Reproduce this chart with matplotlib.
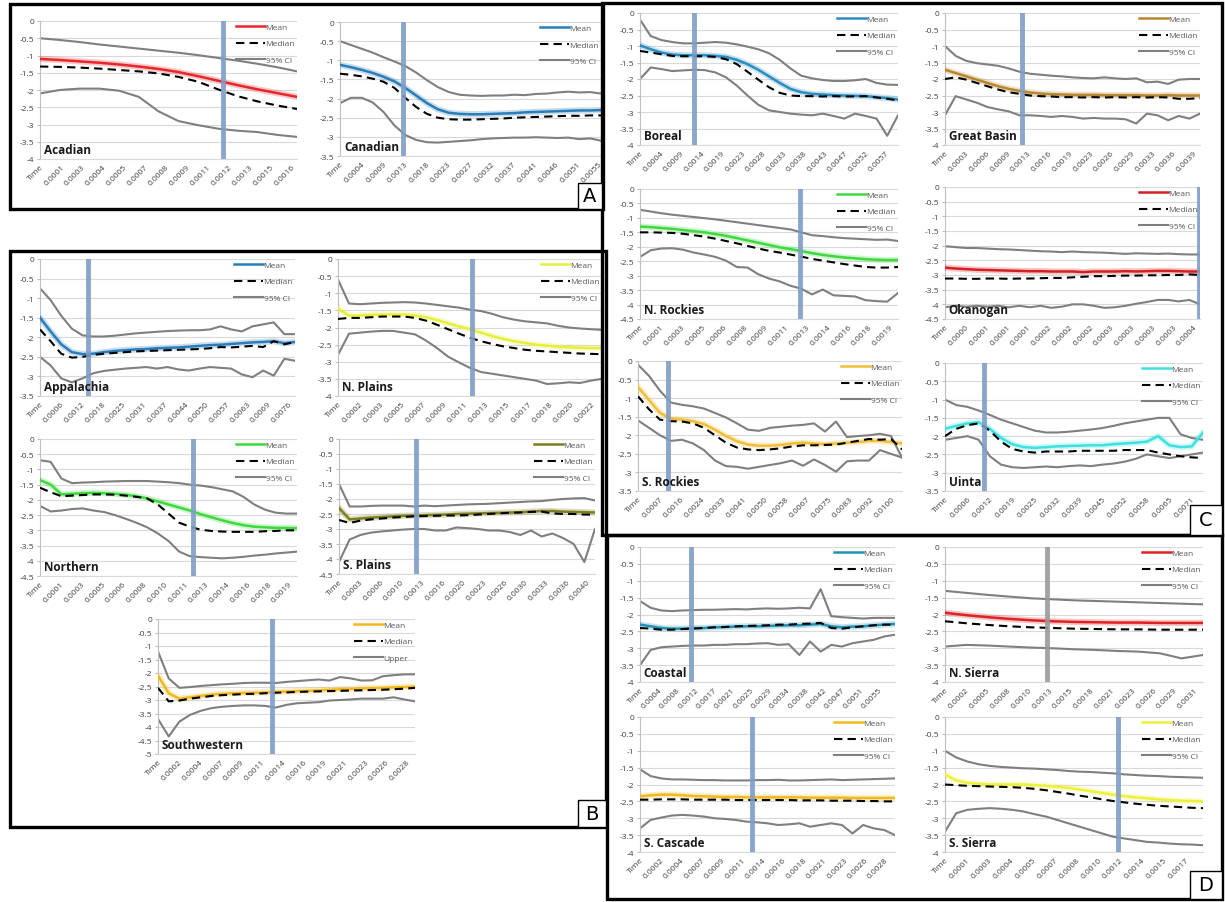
import numpy as np
import matplotlib.pyplot as plt
from matplotlib.patches import Rectangle
from matplotlib.lines import Line2D

plt.rcParams['font.family'] = ['Open Sans', 'DejaVu Sans']

W, H = 1225, 903

# ---------------- data ----------------
# A: Acadian
acadian_ticks = ['Time', '0.0001', '0.0003', '0.0004', '0.0005', '0.0007', '0.0008',
                 '0.0009', '0.0011', '0.0012', '0.0013', '0.0015', '0.0016']
acadian_mean = [-1.1, -1.13, -1.17, -1.21, -1.26, -1.32, -1.39, -1.48, -1.6, -1.73, -1.86, -1.98, -2.09, -2.2]
acadian_median = [-1.32, -1.33, -1.35, -1.38, -1.42, -1.46, -1.52, -1.62, -1.76, -1.98, -2.18, -2.33, -2.45, -2.55]
acadian_upper = [-0.5, -0.55, -0.61, -0.68, -0.74, -0.8, -0.86, -0.92, -0.99, -1.07, -1.15, -1.24, -1.34, -1.46]
acadian_lower = [-2.1, -2.0, -1.96, -1.96, -2.02, -2.2, -2.62, -2.9, -3.02, -3.12, -3.18, -3.22, -3.3, -3.36]

# A: Canadian
canadian_ticks = ['Time', '0.0004', '0.0009', '0.0013', '0.0018', '0.0023', '0.0027',
                  '0.0032', '0.0037', '0.0041', '0.0046', '0.0051', '0.0055']
canadian_mean = [-1.12, -1.18, -1.25, -1.33, -1.43, -1.55, -1.72, -1.92, -2.12, -2.28, -2.37, -2.4, -2.41,
                 -2.41, -2.4, -2.39, -2.38, -2.36, -2.35, -2.34, -2.33, -2.32, -2.31, -2.31, -2.3]
canadian_median = [-1.35, -1.38, -1.42, -1.48, -1.56, -1.72, -1.98, -2.22, -2.4, -2.5, -2.54, -2.55, -2.55,
                   -2.54, -2.53, -2.52, -2.5, -2.49, -2.48, -2.47, -2.46, -2.45, -2.45, -2.44, -2.44]
canadian_upper = [-0.5, -0.6, -0.7, -0.8, -0.92, -1.03, -1.15, -1.32, -1.52, -1.7, -1.83, -1.9, -1.92,
                  -1.93, -1.92, -1.92, -1.9, -1.91, -1.88, -1.87, -1.84, -1.82, -1.84, -1.83, -1.87]
canadian_lower = [-2.12, -1.98, -1.98, -2.1, -2.35, -2.7, -2.95, -3.08, -3.14, -3.15, -3.13, -3.11, -3.09,
                  -3.06, -3.04, -3.03, -3.02, -3.02, -3.01, -3.02, -3.03, -3.02, -3.06, -3.04, -3.1]

# C: Boreal
boreal_ticks = ['Time', '0.0004', '0.0009', '0.0014', '0.0019', '0.0023', '0.0028',
                '0.0033', '0.0038', '0.0043', '0.0047', '0.0052', '0.0057']
boreal_mean = [-0.98, -1.1, -1.2, -1.26, -1.28, -1.28, -1.28, -1.3, -1.33, -1.42, -1.55, -1.72, -1.92,
               -2.12, -2.3, -2.4, -2.45, -2.47, -2.49, -2.5, -2.51, -2.52, -2.55, -2.58, -2.62]
boreal_median = [-1.15, -1.2, -1.25, -1.3, -1.31, -1.31, -1.31, -1.33, -1.4, -1.55, -1.78, -2.02, -2.25,
                 -2.42, -2.5, -2.52, -2.52, -2.53, -2.52, -2.53, -2.53, -2.52, -2.56, -2.6, -2.65]
boreal_upper = [-0.2, -0.7, -0.82, -0.88, -0.92, -0.92, -0.9, -0.88, -0.9, -0.95, -1.02, -1.1, -1.22,
                -1.42, -1.68, -1.9, -1.98, -2.03, -2.06, -2.06, -2.04, -2.0, -2.12, -2.17, -2.18]
boreal_lower = [-2.0, -1.65, -1.7, -1.76, -1.74, -1.72, -1.73, -1.8, -1.95, -2.2, -2.5, -2.78, -2.95,
                -3.0, -3.05, -3.08, -3.1, -3.05, -3.12, -3.2, -3.05, -3.12, -3.2, -3.72, -3.1]

# C: Great Basin
basin_ticks = ['Time', '0.0003', '0.0006', '0.0009', '0.0013', '0.0016', '0.0019',
               '0.0023', '0.0026', '0.0029', '0.0033', '0.0036', '0.0039']
basin_mean = [-1.72, -1.82, -1.92, -2.02, -2.12, -2.22, -2.3, -2.36, -2.41, -2.44, -2.46, -2.47, -2.48,
              -2.48, -2.48, -2.49, -2.49, -2.49, -2.49, -2.5, -2.5, -2.49, -2.5, -2.5, -2.5]
basin_median = [-2.0, -1.95, -2.02, -2.12, -2.22, -2.32, -2.4, -2.45, -2.5, -2.52, -2.53, -2.55, -2.55,
                -2.56, -2.55, -2.56, -2.55, -2.56, -2.55, -2.56, -2.55, -2.56, -2.6, -2.6, -2.58]
basin_upper = [-1.0, -1.3, -1.45, -1.52, -1.56, -1.6, -1.68, -1.78, -1.84, -1.87, -1.9, -1.92, -1.95,
               -1.97, -1.98, -1.95, -1.98, -2.0, -1.98, -2.1, -2.08, -2.15, -2.02, -2.0, -2.0]
basin_lower = [-3.1, -2.52, -2.62, -2.72, -2.85, -2.92, -2.98, -3.1, -3.1, -3.12, -3.15, -3.12, -3.15,
               -3.2, -3.18, -3.2, -3.2, -3.22, -3.35, -3.05, -3.1, -3.25, -3.12, -3.2, -3.05]

# C: N. Rockies
nrockies_ticks = ['Time', '0.0001', '0.0003', '0.0005', '0.0006', '0.0008', '0.0009',
                  '0.0011', '0.0013', '0.0014', '0.0016', '0.0018', '0.0019']
nrockies_mean = [-1.3, -1.32, -1.35, -1.38, -1.42, -1.46, -1.5, -1.56, -1.62, -1.7, -1.78, -1.86, -1.94,
                 -2.02, -2.08, -2.15, -2.22, -2.28, -2.33, -2.37, -2.4, -2.43, -2.45, -2.46, -2.46]
nrockies_median = [-1.5, -1.5, -1.51, -1.52, -1.55, -1.6, -1.65, -1.72, -1.8, -1.88, -1.97, -2.06, -2.14,
                   -2.2, -2.27, -2.34, -2.42, -2.48, -2.54, -2.6, -2.65, -2.7, -2.72, -2.72, -2.7]
nrockies_upper = [-0.72, -0.78, -0.84, -0.89, -0.93, -0.97, -1.01, -1.05, -1.1, -1.15, -1.2, -1.25, -1.3,
                  -1.35, -1.4, -1.5, -1.6, -1.63, -1.67, -1.7, -1.72, -1.74, -1.76, -1.75, -1.8]
nrockies_lower = [-2.35, -2.12, -2.06, -2.05, -2.1, -2.2, -2.27, -2.35, -2.48, -2.7, -2.72, -2.95, -3.1,
                  -3.2, -3.35, -3.45, -3.65, -3.48, -3.68, -3.7, -3.72, -3.85, -3.88, -3.9, -3.6]

# C: Okanogan
okanogan_ticks = ['Time', '0.0000', '0.0001', '0.0001', '0.0001', '0.0002', '0.0002',
                  '0.0002', '0.0003', '0.0003', '0.0003', '0.0003', '0.0004']
okanogan_mean = [-2.75, -2.78, -2.8, -2.82, -2.83, -2.84, -2.85, -2.86, -2.87, -2.87, -2.88, -2.88, -2.88,
                 -2.9, -2.88, -2.88, -2.88, -2.87, -2.88, -2.87, -2.86, -2.86, -2.87, -2.88, -2.88]
okanogan_median = [-3.12, -3.12, -3.13, -3.13, -3.12, -3.12, -3.13, -3.12, -3.12, -3.11, -3.1, -3.1, -3.08,
                   -3.06, -3.04, -3.04, -3.03, -3.02, -3.02, -3.01, -3.01, -3.0, -3.0, -2.98, -3.0]
okanogan_upper = [-2.02, -2.05, -2.08, -2.08, -2.1, -2.12, -2.13, -2.15, -2.17, -2.19, -2.2, -2.22, -2.2,
                  -2.22, -2.23, -2.24, -2.26, -2.28, -2.26, -2.27, -2.28, -2.27, -2.29, -2.3, -2.3]
okanogan_lower = [-4.1, -4.05, -4.08, -4.05, -4.08, -4.05, -4.1, -4.05, -4.1, -4.05, -4.12, -4.08, -4.0,
                  -4.0, -4.05, -4.12, -4.1, -4.05, -3.98, -3.92, -3.85, -3.85, -3.9, -3.85, -4.0]

# C: S. Rockies
srockies_ticks = ['Time', '0.0007', '0.0016', '0.0024', '0.0033', '0.0041', '0.0050',
                  '0.0058', '0.0067', '0.0075', '0.0083', '0.0092', '0.0100']
srockies_mean = [-0.7, -1.05, -1.4, -1.55, -1.58, -1.62, -1.7, -1.85, -2.02, -2.16, -2.25, -2.28, -2.28,
                 -2.26, -2.22, -2.2, -2.22, -2.24, -2.22, -2.2, -2.18, -2.15, -2.15, -2.18, -2.22]
srockies_median = [-0.95, -1.3, -1.58, -1.62, -1.63, -1.68, -1.8, -2.0, -2.2, -2.33, -2.38, -2.4, -2.38,
                   -2.35, -2.3, -2.27, -2.27, -2.26, -2.25, -2.2, -2.15, -2.1, -2.12, -2.1, -2.38]
srockies_upper = [-0.1, -0.4, -0.8, -1.12, -1.18, -1.22, -1.28, -1.4, -1.52, -1.68, -1.85, -1.88, -1.8,
                  -1.77, -1.74, -1.72, -1.68, -1.9, -1.63, -2.05, -2.02, -2.0, -1.96, -2.02, -2.6]
srockies_lower = [-1.6, -1.8, -2.0, -2.15, -2.12, -2.22, -2.4, -2.68, -2.83, -2.85, -2.9, -2.85, -2.8,
                  -2.75, -2.68, -2.82, -2.65, -2.8, -2.98, -2.7, -2.68, -2.68, -2.4, -2.5, -2.6]

# C: Uinta
uinta_ticks = ['Time', '0.0006', '0.0012', '0.0019', '0.0025', '0.0032', '0.0039',
               '0.0045', '0.0052', '0.0058', '0.0065', '0.0071']
uinta_mean = [-1.8, -1.72, -1.65, -1.62, -1.8, -2.05, -2.22, -2.3, -2.32, -2.3, -2.28, -2.27,
              -2.26, -2.25, -2.25, -2.22, -2.2, -2.18, -2.15, -2.0, -2.25, -2.3, -2.28, -1.9]
uinta_median = [-2.0, -1.8, -1.7, -1.65, -1.85, -2.15, -2.35, -2.42, -2.45, -2.42, -2.42, -2.42,
                -2.4, -2.4, -2.4, -2.4, -2.38, -2.38, -2.38, -2.45, -2.5, -2.55, -2.58, -2.6]
uinta_upper = [-1.0, -1.15, -1.2, -1.3, -1.42, -1.55, -1.65, -1.75, -1.85, -1.9, -1.9, -1.88,
               -1.85, -1.82, -1.78, -1.72, -1.65, -1.6, -1.55, -1.5, -1.5, -1.95, -2.05, -2.1]
uinta_lower = [-2.1, -2.05, -2.0, -2.1, -2.55, -2.78, -2.85, -2.87, -2.85, -2.83, -2.85, -2.82,
               -2.8, -2.82, -2.78, -2.75, -2.7, -2.62, -2.5, -2.55, -2.6, -2.55, -2.5, -2.45]

# B: Appalachia
appal_ticks = ['Time', '0.0006', '0.0012', '0.0018', '0.0025', '0.0031', '0.0037',
               '0.0044', '0.0050', '0.0057', '0.0063', '0.0069', '0.0076']
appal_mean = [-1.5, -1.85, -2.18, -2.38, -2.43, -2.42, -2.38, -2.35, -2.33, -2.31, -2.3, -2.28, -2.27,
              -2.26, -2.24, -2.22, -2.2, -2.19, -2.17, -2.15, -2.13, -2.12, -2.1, -2.15, -2.12]
appal_median = [-1.8, -2.1, -2.42, -2.52, -2.5, -2.45, -2.42, -2.4, -2.38, -2.36, -2.35, -2.34, -2.33,
                -2.32, -2.31, -2.3, -2.28, -2.25, -2.26, -2.24, -2.22, -2.25, -2.1, -2.18, -2.12]
appal_upper = [-0.75, -1.05, -1.45, -1.78, -1.95, -1.98, -1.98, -1.96, -1.93, -1.9, -1.88, -1.86, -1.84,
               -1.83, -1.82, -1.82, -1.8, -1.72, -1.8, -1.85, -1.72, -1.67, -1.62, -1.92, -1.92]
appal_lower = [-2.5, -2.72, -3.05, -3.15, -3.05, -2.92, -2.86, -2.83, -2.8, -2.78, -2.76, -2.8, -2.76,
               -2.82, -2.85, -2.8, -2.76, -2.78, -2.8, -2.95, -3.02, -2.85, -2.98, -2.55, -2.6]

# B: N. Plains
nplains_ticks = ['Time', '0.0002', '0.0003', '0.0005', '0.0007', '0.0009', '0.0011',
                 '0.0013', '0.0015', '0.0017', '0.0018', '0.0020', '0.0022']
nplains_mean = [-1.45, -1.65, -1.65, -1.63, -1.62, -1.62, -1.62, -1.65, -1.7, -1.78, -1.88, -1.97, -2.05,
                -2.15, -2.25, -2.33, -2.4, -2.45, -2.5, -2.53, -2.56, -2.58, -2.59, -2.6, -2.6]
nplains_median = [-1.75, -1.72, -1.72, -1.7, -1.68, -1.68, -1.68, -1.72, -1.8, -1.92, -2.05, -2.18, -2.3,
                  -2.4, -2.48, -2.55, -2.6, -2.65, -2.68, -2.7, -2.72, -2.74, -2.76, -2.77, -2.78]
nplains_upper = [-0.6, -1.3, -1.32, -1.3, -1.28, -1.27, -1.26, -1.27, -1.3, -1.34, -1.38, -1.42, -1.48,
                 -1.52, -1.6, -1.7, -1.77, -1.82, -1.85, -1.88, -1.95, -2.0, -2.03, -2.05, -2.07]
nplains_lower = [-2.8, -2.18, -2.15, -2.12, -2.1, -2.1, -2.15, -2.2, -2.38, -2.6, -2.85, -3.02, -3.18,
                 -3.3, -3.35, -3.4, -3.45, -3.5, -3.55, -3.65, -3.63, -3.6, -3.62, -3.55, -3.5]

# B: Northern
northern_ticks = ['Time', '0.0001', '0.0003', '0.0005', '0.0006', '0.0008', '0.0010',
                  '0.0011', '0.0013', '0.0014', '0.0016', '0.0018', '0.0019']
northern_mean = [-1.35, -1.5, -1.82, -1.8, -1.78, -1.77, -1.78, -1.8, -1.83, -1.88, -1.95, -2.05, -2.15,
                 -2.25, -2.35, -2.47, -2.57, -2.67, -2.76, -2.83, -2.88, -2.9, -2.92, -2.92, -2.93]
northern_median = [-1.6, -1.75, -1.88, -1.86, -1.84, -1.82, -1.82, -1.83, -1.86, -1.9, -1.95, -2.15, -2.45,
                   -2.75, -2.88, -2.98, -3.02, -3.04, -3.05, -3.05, -3.05, -3.03, -3.02, -3.0, -3.0]
northern_upper = [-0.7, -0.75, -1.3, -1.45, -1.43, -1.42, -1.4, -1.39, -1.38, -1.38, -1.38, -1.4, -1.42,
                  -1.45, -1.5, -1.53, -1.58, -1.65, -1.72, -1.9, -2.15, -2.32, -2.42, -2.45, -2.45]
northern_lower = [-2.2, -2.38, -2.35, -2.3, -2.28, -2.35, -2.4, -2.5, -2.62, -2.75, -2.9, -3.1, -3.35,
                  -3.7, -3.85, -3.88, -3.9, -3.92, -3.9, -3.87, -3.83, -3.8, -3.76, -3.73, -3.7]

# B: S. Plains
splains_ticks = ['Time', '0.0003', '0.0006', '0.0010', '0.0013', '0.0016', '0.0020',
                 '0.0023', '0.0026', '0.0030', '0.0033', '0.0036', '0.0040']
splains_mean = [-2.3, -2.68, -2.65, -2.62, -2.6, -2.58, -2.56, -2.55, -2.54, -2.53, -2.52, -2.5, -2.49,
                -2.48, -2.47, -2.46, -2.45, -2.44, -2.42, -2.4, -2.4, -2.42, -2.43, -2.44, -2.45]
splains_median = [-2.7, -2.8, -2.72, -2.68, -2.65, -2.62, -2.6, -2.58, -2.57, -2.56, -2.55, -2.55, -2.54,
                  -2.52, -2.5, -2.48, -2.46, -2.45, -2.43, -2.42, -2.48, -2.5, -2.5, -2.52, -2.52]
splains_upper = [-1.5, -2.25, -2.25, -2.23, -2.22, -2.22, -2.22, -2.25, -2.22, -2.24, -2.22, -2.2, -2.18,
                 -2.17, -2.16, -2.14, -2.12, -2.1, -2.08, -2.07, -2.03, -2.0, -1.98, -1.97, -2.05]
splains_lower = [-4.1, -3.35, -3.2, -3.12, -3.08, -3.05, -3.02, -3.0, -3.0, -3.05, -3.05, -2.95, -2.97,
                 -3.0, -3.05, -3.05, -3.1, -3.2, -3.05, -3.25, -3.15, -3.3, -3.5, -4.1, -3.0]

# B: Southwestern
southw_ticks = ['Time', '0.0002', '0.0004', '0.0007', '0.0009', '0.0011', '0.0014',
                '0.0016', '0.0019', '0.0021', '0.0023', '0.0026', '0.0028']
southw_mean = [-2.1, -2.75, -2.95, -2.9, -2.85, -2.8, -2.77, -2.75, -2.74, -2.73, -2.72, -2.7, -2.69,
               -2.67, -2.66, -2.64, -2.62, -2.6, -2.59, -2.57, -2.56, -2.55, -2.53, -2.52, -2.5]
southw_median = [-2.55, -3.05, -3.02, -2.95, -2.9, -2.85, -2.82, -2.8, -2.78, -2.77, -2.75, -2.73, -2.72,
                 -2.7, -2.69, -2.68, -2.67, -2.66, -2.65, -2.64, -2.63, -2.62, -2.6, -2.58, -2.55]
southw_upper = [-1.2, -2.2, -2.55, -2.52, -2.48, -2.45, -2.42, -2.4, -2.37, -2.36, -2.36, -2.37, -2.33,
                -2.3, -2.27, -2.24, -2.28, -2.15, -2.2, -2.28, -2.27, -2.12, -2.08, -2.05, -2.05]
southw_lower = [-3.7, -4.35, -3.8, -3.55, -3.4, -3.3, -3.25, -3.22, -3.2, -3.2, -3.22, -3.28, -3.18,
                -3.12, -3.1, -3.08, -3.02, -3.0, -2.98, -2.95, -2.95, -2.95, -2.9, -2.98, -3.05]

# D: Coastal
coastal_ticks = ['Time', '0.0004', '0.0008', '0.0012', '0.0017', '0.0021', '0.0025',
                 '0.0029', '0.0034', '0.0038', '0.0042', '0.0047', '0.0051', '0.0055']
coastal_mean = [-2.3, -2.35, -2.4, -2.42, -2.42, -2.4, -2.4, -2.38, -2.37, -2.36, -2.35, -2.35, -2.34,
                -2.33, -2.32, -2.32, -2.3, -2.28, -2.35, -2.38, -2.36, -2.35, -2.32, -2.3, -2.28]
coastal_median = [-2.4, -2.42, -2.45, -2.45, -2.43, -2.42, -2.4, -2.38, -2.37, -2.35, -2.34, -2.33, -2.32,
                  -2.3, -2.3, -2.28, -2.27, -2.25, -2.4, -2.42, -2.38, -2.35, -2.32, -2.3, -2.3]
coastal_upper = [-1.6, -1.8, -1.88, -1.9, -1.88, -1.87, -1.86, -1.86, -1.85, -1.84, -1.85, -1.83, -1.82,
                 -1.83, -1.82, -1.8, -1.82, -1.25, -2.05, -2.08, -2.1, -2.12, -2.1, -2.1, -2.1]
coastal_lower = [-3.5, -3.05, -2.97, -2.95, -2.93, -2.92, -2.92, -2.9, -2.9, -2.88, -2.88, -2.86, -2.85,
                 -2.9, -2.88, -3.2, -2.8, -3.1, -2.9, -2.95, -2.85, -2.8, -2.75, -2.65, -2.6]

# D: N. Sierra
nsierra_ticks = ['Time', '0.0002', '0.0005', '0.0008', '0.0010', '0.0013', '0.0015',
                 '0.0018', '0.0021', '0.0023', '0.0026', '0.0029', '0.0031']
nsierra_mean = [-1.95, -2.02, -2.08, -2.13, -2.17, -2.2, -2.22, -2.23, -2.24, -2.24, -2.25, -2.25, -2.25]
nsierra_median = [-2.2, -2.26, -2.31, -2.35, -2.38, -2.4, -2.42, -2.43, -2.44, -2.44, -2.45, -2.45, -2.45]
nsierra_upper = [-1.3, -1.36, -1.42, -1.47, -1.52, -1.55, -1.58, -1.6, -1.62, -1.64, -1.66, -1.68, -1.7]
nsierra_lower = [-2.95, -2.9, -2.92, -2.95, -2.98, -3.0, -3.03, -3.05, -3.08, -3.1, -3.15, -3.3, -3.2]

# D: S. Cascade
scascade_ticks = ['Time', '0.0002', '0.0004', '0.0007', '0.0009', '0.0011', '0.0014',
                  '0.0016', '0.0018', '0.0021', '0.0023', '0.0026', '0.0028']
scascade_mean = [-2.35, -2.32, -2.3, -2.3, -2.32, -2.34, -2.35, -2.36, -2.37, -2.37, -2.38, -2.38, -2.38,
                 -2.38, -2.38, -2.38, -2.39, -2.39, -2.39, -2.39, -2.4, -2.4, -2.4, -2.4, -2.4]
scascade_median = [-2.45, -2.45, -2.44, -2.44, -2.44, -2.45, -2.45, -2.45, -2.45, -2.46, -2.46, -2.46, -2.46,
                   -2.46, -2.46, -2.47, -2.47, -2.47, -2.48, -2.48, -2.48, -2.49, -2.49, -2.5, -2.5]
scascade_upper = [-1.55, -1.75, -1.82, -1.85, -1.85, -1.86, -1.87, -1.87, -1.88, -1.88, -1.88, -1.87, -1.87,
                  -1.86, -1.88, -1.88, -1.87, -1.86, -1.85, -1.87, -1.86, -1.85, -1.84, -1.83, -1.82]
scascade_lower = [-3.3, -3.05, -2.98, -2.92, -2.9, -2.92, -2.95, -3.0, -3.02, -3.05, -3.1, -3.12, -3.15,
                  -3.2, -3.18, -3.15, -3.25, -3.2, -3.15, -3.2, -3.45, -3.2, -3.3, -3.35, -3.5]

# D: S. Sierra
ssierra_ticks = ['Time', '0.0001', '0.0003', '0.0004', '0.0005', '0.0007', '0.0008',
                 '0.0010', '0.0012', '0.0014', '0.0015', '0.0017']
ssierra_mean = [-1.7, -1.88, -1.95, -1.98, -2.0, -2.0, -2.0, -2.0, -2.02, -2.04, -2.07, -2.1,
                -2.15, -2.2, -2.25, -2.3, -2.35, -2.38, -2.41, -2.44, -2.46, -2.48, -2.49, -2.5]
ssierra_median = [-2.0, -2.02, -2.04, -2.05, -2.06, -2.07, -2.08, -2.1, -2.13, -2.17, -2.22, -2.27,
                  -2.33, -2.38, -2.44, -2.49, -2.53, -2.57, -2.6, -2.63, -2.65, -2.67, -2.69, -2.7]
ssierra_upper = [-1.0, -1.2, -1.32, -1.4, -1.45, -1.48, -1.5, -1.52, -1.53, -1.55, -1.57, -1.6,
                 -1.62, -1.63, -1.65, -1.67, -1.7, -1.72, -1.74, -1.75, -1.77, -1.78, -1.79, -1.8]
ssierra_lower = [-3.4, -2.85, -2.75, -2.72, -2.7, -2.72, -2.75, -2.8, -2.88, -2.95, -3.05, -3.15,
                 -3.25, -3.35, -3.45, -3.55, -3.6, -3.65, -3.7, -3.72, -3.75, -3.77, -3.78, -3.8]

# ---------------- panel layout: (name, data, pixel box, x end, y min, threshold line, mean colour) ----------------
panels = [
    ('Acadian', acadian_ticks, acadian_mean, acadian_median, acadian_upper, acadian_lower,
     (40, 22, 297, 160), 12.25, -4, 8.7, '#E8262B'),
    ('Canadian', canadian_ticks, canadian_mean, canadian_median, canadian_upper, canadian_lower,
     (340, 23, 601, 157), 12.1, -3.5, 2.9, '#2A7DB8'),
    ('Boreal', boreal_ticks, boreal_mean, boreal_median, boreal_upper, boreal_lower,
     (640, 14, 898, 146), 12.6, -4, 2.66, '#2B8CC0'),
    ('Great Basin', basin_ticks, basin_mean, basin_median, basin_upper, basin_lower,
     (945, 14, 1200, 146), 12.3, -4, 3.7, '#B8862E'),
    ('N. Rockies', nrockies_ticks, nrockies_mean, nrockies_median, nrockies_upper, nrockies_lower,
     (640, 190, 898, 320), 12.4, -4.5, 7.7, '#3FD93F'),
    ('Okanogan', okanogan_ticks, okanogan_mean, okanogan_median, okanogan_upper, okanogan_lower,
     (945, 188, 1200, 320), 12.3, -4.5, 12.25, '#D42020'),
    ('S. Rockies', srockies_ticks, srockies_mean, srockies_median, srockies_upper, srockies_lower,
     (638, 362, 902, 492), 12.5, -3.5, 1.4, '#F2BE38'),
    ('Uinta', uinta_ticks, uinta_mean, uinta_median, uinta_upper, uinta_lower,
     (945, 364, 1203, 492), 11.5, -3.5, 1.75, '#3FE0E0'),
    ('Appalachia', appal_ticks, appal_mean, appal_median, appal_upper, appal_lower,
     (40, 260, 295, 397), 12.3, -3.5, 2.3, '#2A7DB8'),
    ('N. Plains', nplains_ticks, nplains_mean, nplains_median, nplains_upper, nplains_lower,
     (338, 260, 602, 397), 12.5, -4, 6.35, '#E6F03C'),
    ('Northern', northern_ticks, northern_mean, northern_median, northern_upper, northern_lower,
     (40, 440, 297, 577), 12.4, -4.5, 7.4, '#3FD93F'),
    ('S. Plains', splains_ticks, splains_mean, splains_median, splains_upper, splains_lower,
     (339, 440, 595, 575), 12.4, -4.5, 3.75, '#7E7E1E'),
    ('Southwestern', southw_ticks, southw_mean, southw_median, southw_upper, southw_lower,
     (158, 620, 415, 755), 12.4, -5, 5.5, '#F2B81E'),
    ('Coastal', coastal_ticks, coastal_mean, coastal_median, coastal_upper, coastal_lower,
     (640, 548, 895, 683), 13.9, -4, 2.8, '#2391B5'),
    ('N. Sierra', nsierra_ticks, nsierra_mean, nsierra_median, nsierra_upper, nsierra_lower,
     (945, 548, 1203, 683), 12.4, -4, 4.9, '#E02222'),
    ('S. Cascade', scascade_ticks, scascade_mean, scascade_median, scascade_upper, scascade_lower,
     (640, 718, 895, 853), 12.5, -4, 5.5, '#F2B81E'),
    ('S. Sierra', ssierra_ticks, ssierra_mean, ssierra_median, ssierra_upper, ssierra_lower,
     (945, 718, 1203, 853), 11.8, -4, 7.9, '#EDF03C'),
]

ci_names = {'Southwestern': 'Upper'}
vline_colors = {'N. Sierra': '#9A9A9A'}

fig = plt.figure(figsize=(W / 100, H / 100), dpi=100)


def px_axes(box):
    x0, y0, x1, y1 = box
    return fig.add_axes([x0 / W, 1 - y1 / H, (x1 - x0) / W, (y1 - y0) / H])


for name, ticks, mean, median, upper, lower, box, xend, ymin, vline, color in panels:
    ax = px_axes(box)
    ax.set_xlim(0, xend)
    ax.set_ylim(ymin, 0)

    yt = np.arange(ymin, 0.01, 0.5)
    ax.set_yticks(yt)
    ax.set_yticklabels(['0' if abs(v) < 1e-9 else f'{v:g}' for v in yt])
    ax.set_xticks(range(len(ticks)))
    ax.set_xticklabels(ticks, rotation=45, ha='right', rotation_mode='anchor')
    ax.tick_params(axis='x', length=0, pad=3, labelsize=6.0, labelcolor='#404040')
    ax.tick_params(axis='y', length=2, pad=2, labelsize=6.0, labelcolor='#404040', color='#BFBFBF')
    ax.grid(axis='y', color='#D9D9D9', lw=0.8)
    ax.set_axisbelow(True)
    for s in ['top', 'right']:
        ax.spines[s].set_visible(False)
    ax.spines['left'].set_color('#BFBFBF')
    ax.spines['bottom'].set_color('#D9D9D9')

    # each series is spread evenly over the category axis
    def xs(v):
        return np.linspace(0, xend, len(v))

    ax.plot(xs(upper), upper, color='#7F7F7F', lw=1.5, zorder=2)
    ax.plot(xs(lower), lower, color='#7F7F7F', lw=1.5, zorder=2)
    ax.plot(xs(mean), mean, color=color, lw=4.5, alpha=0.25, solid_capstyle='round', zorder=3)
    ax.plot(xs(mean), mean, color=color, lw=1.8, zorder=4)
    ax.plot(xs(median), median, color='black', lw=1.5, dashes=(4, 2.5), zorder=5)

    ax.axvline(vline, color=vline_colors.get(name, '#7F9CC6'), lw=3.5, alpha=0.9, zorder=6)

    handles = [Line2D([], [], color=color, lw=1.8),
               Line2D([], [], color='black', lw=1.5, dashes=(4, 2.5)),
               Line2D([], [], color='#7F7F7F', lw=1.5)]
    ax.legend(handles, ['Mean', 'Median', ci_names.get(name, '95% CI')], loc='upper right',
              frameon=False, fontsize=6.0, labelcolor='#595959', handlelength=3.4,
              handletextpad=0.1, labelspacing=1.05, borderaxespad=0.15, borderpad=0.1)

    ax.text(0.015, 0.02, name, transform=ax.transAxes, fontsize=8.5, fontweight='bold',
            color='#1A1A1A', va='bottom', ha='left', zorder=7)

# ---------------- group boxes and their letters ----------------
groups = [(10, 5, 603, 210), (10, 252, 606, 828), (602, 4, 1222, 536), (607, 536, 1222, 900)]
letters = [('A', (578, 184, 602, 210)), ('B', (578, 801, 606, 828)),
           ('C', (1190, 506, 1222, 536)), ('D', (1190, 872, 1222, 900))]

for x0, y0, x1, y1 in groups:
    fig.add_artist(Rectangle((x0 / W, 1 - y1 / H), (x1 - x0) / W, (y1 - y0) / H,
                             transform=fig.transFigure, fill=False, ec='black', lw=2.4, zorder=20))

for letter, (x0, y0, x1, y1) in letters:
    fig.add_artist(Rectangle((x0 / W, 1 - y1 / H), (x1 - x0) / W, (y1 - y0) / H,
                             transform=fig.transFigure, fc='white', ec='black', lw=1.0, zorder=21))
    fig.text((x0 + x1) / 2 / W, 1 - (y0 + y1) / 2 / H, letter, ha='center', va='center',
             fontsize=14, family=['DejaVu Sans'], zorder=22)

plt.savefig('out.png', dpi=100)
